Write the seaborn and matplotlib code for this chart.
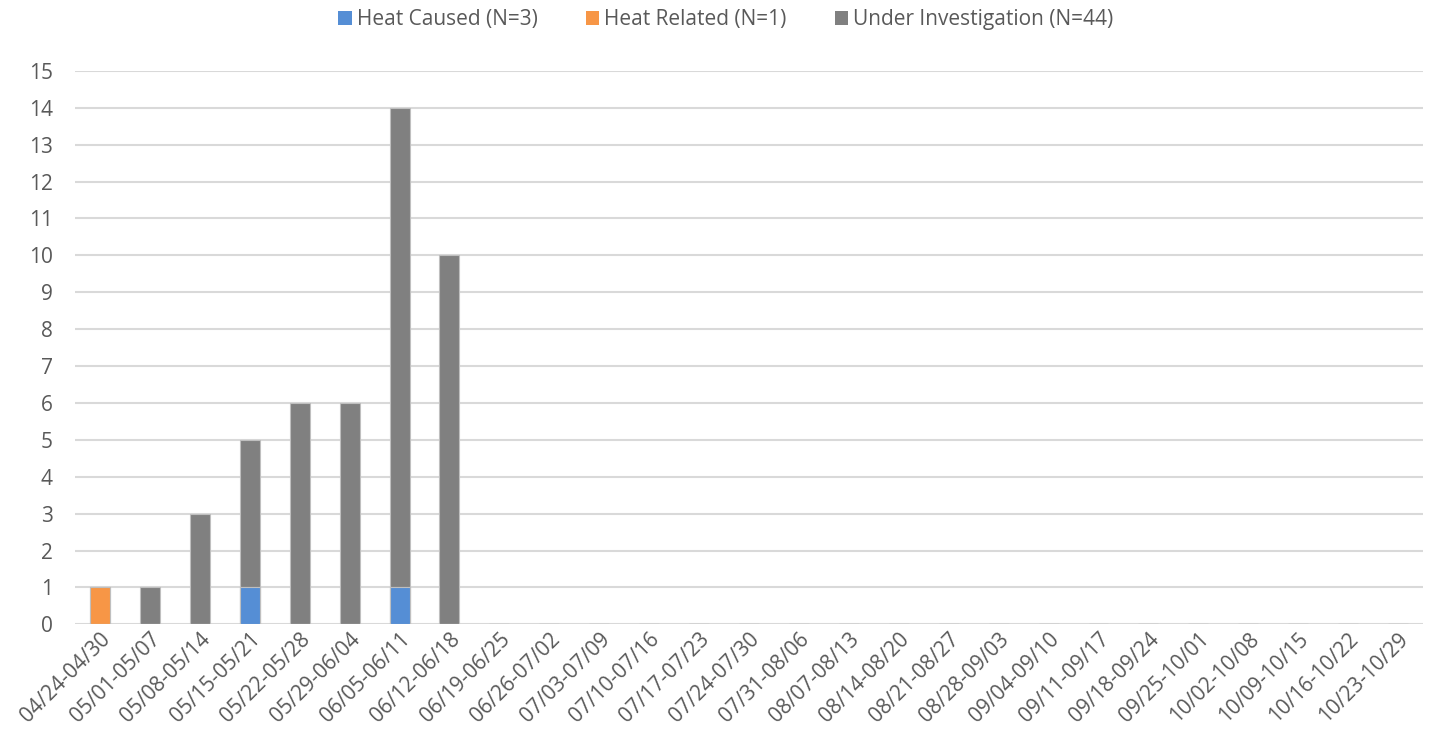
import matplotlib
matplotlib.use("Agg")
import matplotlib.pyplot as plt
import seaborn as sns
import numpy as np
import pandas as pd
from matplotlib.patches import Patch

weeks = ["04/24-04/30", "05/01-05/07", "05/08-05/14", "05/15-05/21", "05/22-05/28",
         "05/29-06/04", "06/05-06/11", "06/12-06/18", "06/19-06/25", "06/26-07/02",
         "07/03-07/09", "07/10-07/16", "07/17-07/23", "07/24-07/30", "07/31-08/06",
         "08/07-08/13", "08/14-08/20", "08/21-08/27", "08/28-09/03", "09/04-09/10",
         "09/11-09/17", "09/18-09/24", "09/25-10/01", "10/02-10/08", "10/09-10/15",
         "10/16-10/22", "10/23-10/29"]
heat_caused = [0, 0, 0, 1, 0, 0, 1, 0] + [0] * 19
heat_related = [1, 0, 0, 0, 0, 0, 0, 0] + [0] * 19
under_investigation = [0, 1, 3, 4, 6, 6, 13, 10] + [0] * 19
series_labels = ["Heat Caused (N=3)", "Heat Related (N=1)", "Under Investigation (N=44)"]
colors = ["#558ED5", "#F79646", "#808080"]

sns.set_theme(style="white")
plt.rcParams['font.family'] = ['Open Sans', 'DejaVu Sans']
text_color = "#595959"

df = pd.DataFrame({"week": weeks, "hc": heat_caused, "hr": heat_related, "ui": under_investigation})
df["c1"] = df["hc"]
df["c2"] = df["hc"] + df["hr"]
df["c3"] = df["c2"] + df["ui"]

fig = plt.figure(figsize=(14.29, 7.46), dpi=100)
ax = fig.add_axes([0.0525, 0.1631, 0.9433, 0.742])

for col, color in zip(["c3", "c2", "c1"], colors[::-1]):
    sns.barplot(data=df, x="week", y=col, color=color, saturation=1, width=0.4,
                edgecolor="#BFBFBF", linewidth=0.8, ax=ax, zorder=3)

ax.set_xlim(-0.5, len(weeks) - 0.5)
ax.set_ylim(0, 15)
ax.set_yticks(range(0, 16))
ax.yaxis.grid(True, color="#D9D9D9", linewidth=1.5, zorder=0)
ax.set_axisbelow(True)
for s in ax.spines.values():
    s.set_visible(False)
ax.set_xlabel("")
ax.set_ylabel("")
ax.tick_params(axis="y", length=0, pad=16, labelsize=15, labelcolor=text_color)
ax.tick_params(axis="x", length=0, pad=3, labelsize=15, labelcolor=text_color)
plt.setp(ax.get_xticklabels(), rotation=45, ha="right", rotation_mode="anchor")

handles = [Patch(facecolor=c, edgecolor="none") for c in colors]
fig.legend(handles, series_labels, loc="center", bbox_to_anchor=(0.508, 0.974), ncol=3,
           frameon=False, fontsize=15, labelcolor=text_color, handlelength=0.65,
           handleheight=0.65, handletextpad=0.25, columnspacing=2.3)

fig.savefig("out.png", dpi=100)
